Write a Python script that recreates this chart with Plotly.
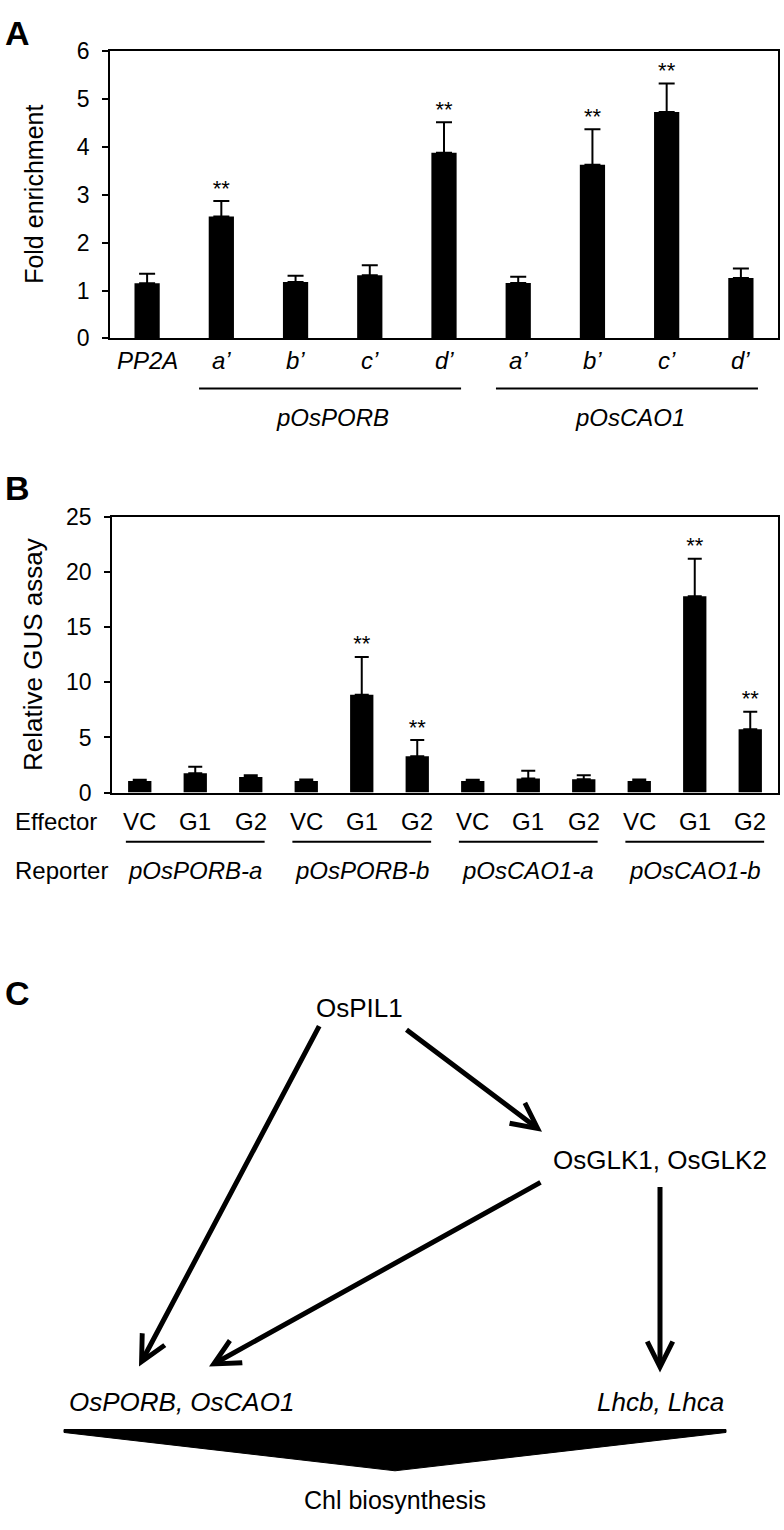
import plotly.graph_objects as go

W, H = 784, 1530
FONT = "Liberation Sans, Arial, sans-serif"

# ---- panel A : ChIP fold enrichment ----
a_labels = ["PP2A", "a’", "b’", "c’", "d’", "a’", "b’", "c’", "d’"]
a_mean = [1.15, 2.55, 1.18, 1.32, 3.88, 1.16, 3.63, 4.73, 1.26]
a_upper = [1.35, 2.87, 1.31, 1.53, 4.52, 1.29, 4.37, 5.33, 1.46]
a_sig = [False, True, False, False, True, False, True, True, False]
a_groups = ["pOsPORB", "pOsCAO1"]
a_group_members = [(1, 4), (5, 8)]

# ---- panel B : transient GUS assay ----
b_effector = ["VC", "G1", "G2"] * 4
b_reporter = ["pOsPORB-a", "pOsPORB-b", "pOsCAO1-a", "pOsCAO1-b"]
b_mean = [1.05, 1.74, 1.42, 1.05, 8.89, 3.29, 1.05, 1.27, 1.21, 1.05, 17.83, 5.74]
b_upper = [1.15, 2.34, 1.57, 1.18, 12.32, 4.76, 1.15, 1.98, 1.57, 1.18, 21.24, 7.34]
b_sig = [False, False, False, False, True, True, False, False, False, False, True, True]

# ---- panel C : model ----
c_nodes = ["OsPIL1", "OsGLK1, OsGLK2", "<i>OsPORB, OsCAO1</i>", "<i>Lhcb, Lhca</i>"]
c_output = "Chl biosynthesis"


def py(v):
    # pixel row -> paper y
    return 1 - v / H


def px(v):
    return v / W


def label(text, x, y, size, xref="paper", **kw):
    d = dict(text=text, x=x, y=y, xref=xref, yref="paper", showarrow=False,
             xanchor="center", yanchor="middle", font=dict(size=size, family=FONT, color="black"))
    d.update(kw)
    return d


fig = go.Figure()

# panel A bars
ax_idx = list(range(len(a_labels)))
fig.add_trace(go.Bar(
    x=ax_idx, y=a_mean, marker_color="black", marker_line_width=0,
    error_y=dict(type="data", symmetric=False,
                 array=[u - m for u, m in zip(a_upper, a_mean)],
                 arrayminus=[0] * len(a_mean),
                 color="black", thickness=2, width=8),
    xaxis="x", yaxis="y", showlegend=False,
))
fig.add_trace(go.Scatter(
    x=ax_idx, y=a_upper, mode="text",
    text=["**" if s else "" for s in a_sig], textposition="top center",
    textfont=dict(size=22, color="black", family=FONT),
    xaxis="x", yaxis="y", showlegend=False, cliponaxis=False,
))

# panel B bars
bx_idx = list(range(len(b_effector)))
fig.add_trace(go.Bar(
    x=bx_idx, y=b_mean, marker_color="black", marker_line_width=0, width=0.42,
    error_y=dict(type="data", symmetric=False,
                 array=[u - m for u, m in zip(b_upper, b_mean)],
                 arrayminus=[0] * len(b_mean),
                 color="black", thickness=2, width=7),
    xaxis="x2", yaxis="y2", showlegend=False,
))
fig.add_trace(go.Scatter(
    x=bx_idx, y=b_upper, mode="text",
    text=["**" if s else "" for s in b_sig], textposition="top center",
    textfont=dict(size=22, color="black", family=FONT),
    xaxis="x2", yaxis="y2", showlegend=False, cliponaxis=False,
))

axis_common = dict(showline=True, linecolor="black", linewidth=1.5, mirror=True,
                   showgrid=False, zeroline=False, fixedrange=True)

fig.update_layout(
    width=W, height=H, autosize=False,
    margin=dict(l=0, r=0, t=0, b=0),
    paper_bgcolor="white", plot_bgcolor="white",
    font=dict(family=FONT, color="black"),
    bargap=0.66,
    xaxis=dict(domain=[px(110), px(778)], range=[-0.5, len(a_labels) - 0.5],
               tickvals=ax_idx, showticklabels=False, ticks="",
               anchor="y", **axis_common),
    yaxis=dict(domain=[py(331), py(39)], range=[0, 6], dtick=1,
               ticks="outside", ticklen=6, tickwidth=1.5, tickcolor="black",
               tickfont=dict(size=23), ticklabelstandoff=8,
               anchor="x", **axis_common),
    xaxis2=dict(domain=[px(112), px(778)], range=[-0.5, len(b_effector) - 0.5],
                tickvals=bx_idx, showticklabels=False, ticks="",
                anchor="y2", **axis_common),
    yaxis2=dict(domain=[py(793), py(513)], range=[0, 25], dtick=5,
                ticks="outside", ticklen=6, tickwidth=1.5, tickcolor="black",
                tickfont=dict(size=23), ticklabelstandoff=8,
                anchor="x2", **axis_common),
)

annotations = []
shapes = []

# panel letters
for letter, yy in [("A", 20), ("B", 483), ("C", 997)]:
    annotations.append(label(f"<b>{letter}</b>", px(3), py(yy), 34, xanchor="left"))

# y-axis titles
annotations.append(label("Fold enrichment", px(34), py(185), 25, textangle=-90))
annotations.append(label("Relative GUS assay", px(33), py(653), 26, textangle=-90))

# panel A category labels
for i, t in zip(ax_idx, a_labels):
    annotations.append(label(f"<i>{t}</i>", i, py(354), 24, xref="x"))

# panel A group brackets
for name, (i0, i1) in zip(a_groups, a_group_members):
    shapes.append(dict(type="line", xref="x", yref="paper", x0=i0 - 0.3, x1=i1 + 0.23,
                       y0=py(382), y1=py(382), line=dict(color="black", width=2)))
    annotations.append(label(f"<i>{name}</i>", (i0 + i1) / 2, py(412), 24, xref="x"))

# panel B effector labels
for i, t in zip(bx_idx, b_effector):
    annotations.append(label(t, i, py(822), 24, xref="x2"))

# panel B row labels
annotations.append(label("Effector", px(13), py(822), 24, xanchor="left"))
annotations.append(label("Reporter", px(13), py(872), 24, xanchor="left"))
for g, name in enumerate(b_reporter):
    shapes.append(dict(type="line", xref="x2", yref="paper", x0=g * 3 - 0.25, x1=g * 3 + 2.25,
                       y0=py(843), y1=py(843), line=dict(color="black", width=2)))
    annotations.append(label(f"<i>{name}</i>", g * 3 + 1, py(872), 24, xref="x2"))

# panel C diagram (pixel layout)
node_pos = [(359, 1012), (660, 1167), (181, 1413), (660, 1413)]
for t, (nx, ny) in zip(c_nodes, node_pos):
    annotations.append(label(t, px(nx), py(ny), 26))
annotations.append(label(c_output, px(395), py(1513), 25))

arrows = [((320, 1035), (139, 1377)),
          ((405, 1035), (542, 1138)),
          ((542, 1192), (209, 1377)),
          ((660, 1196), (660, 1383))]
for (tx, ty), (hx, hy) in arrows:
    annotations.append(dict(text="", x=px(hx), y=py(hy), xref="paper", yref="paper",
                            ax=tx - hx, ay=ty - hy, axref="pixel", ayref="pixel",
                            showarrow=True, arrowhead=5, arrowsize=1.0, arrowwidth=5,
                            arrowcolor="black", standoff=0))

# output wedge
wedge = [(64, 1441), (726, 1441), (726, 1444), (395, 1483), (64, 1444)]
path = "M " + " L ".join(f"{px(x):.5f},{py(y):.5f}" for x, y in wedge) + " Z"
shapes.append(dict(type="path", xref="paper", yref="paper", path=path,
                   fillcolor="black", line=dict(color="black", width=1)))

fig.update_layout(annotations=annotations, shapes=shapes)

fig.write_html("out.html", config={"displayModeBar": False},
               post_script="document.body.style.margin='0px';")
